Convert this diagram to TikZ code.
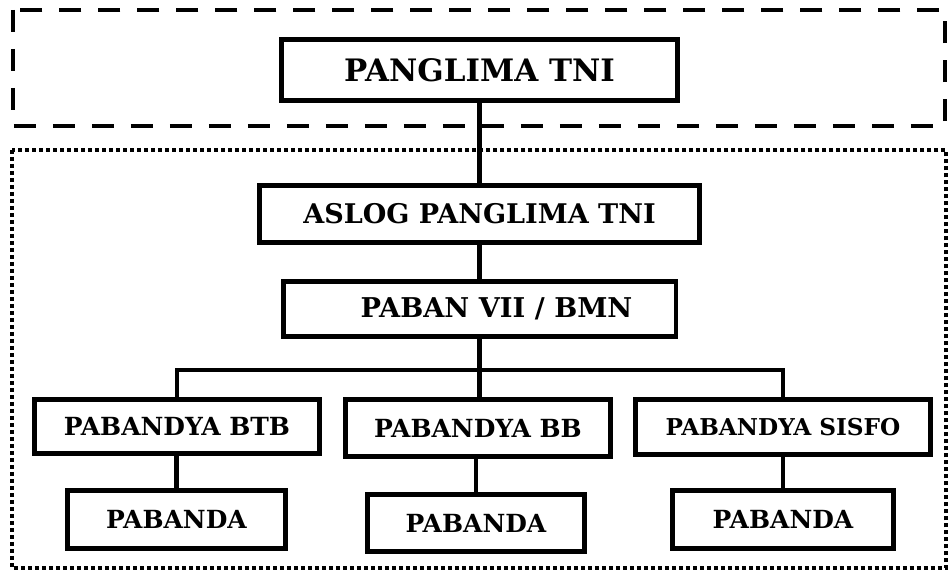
\documentclass[tikz,border=0pt]{standalone}
\usepackage{fontspec}
\setmainfont{DejaVu Serif}
\usepackage{tikz}

\begin{document}
\begin{tikzpicture}[x=0.02cm, y=-0.02cm]
      \tikzstyle{box} = [draw, line width=2.8pt, inner sep=0pt, align=center, font=\bfseries]
      \tikzstyle{link} = [line width=2.8pt]

      \useasboundingbox (0,0) rectangle (950,571);

      % groups
      \draw[line width=2.8pt, dash pattern=on 0.44cm off 0.34cm] (13,10) rectangle (945,126);
      \draw[line width=2.3pt, dash pattern=on 0.08cm off 0.06cm] (12,150) rectangle (946,568);

      \node[box, minimum width=7.92cm, minimum height=1.22cm, font=\bfseries\fontsize{17.6}{20}\selectfont] (panglima) at (479.5,70) {PANGLIMA TNI};
      \node[box, minimum width=8.8cm, minimum height=1.14cm, font=\bfseries\fontsize{15.4}{18}\selectfont] (aslog) at (479.5,214) {ASLOG PANGLIMA TNI};
      \node[box, minimum width=7.86cm, minimum height=1.1cm, font=\bfseries\fontsize{15.5}{18}\selectfont] (paban) at (479.5,309) {\hspace{0.68cm}PABAN VII / BMN};

      \node[box, minimum width=5.7cm, minimum height=1.08cm, font=\bfseries\fontsize{14.2}{16}\selectfont] (btb) at (177,426.5) {PABANDYA BTB};
      \node[box, minimum width=5.3cm, minimum height=1.14cm, font=\bfseries\fontsize{14.2}{16}\selectfont] (bb) at (478,428) {PABANDYA BB};
      \node[box, minimum width=5.9cm, minimum height=1.1cm, font=\bfseries\fontsize{13.2}{15}\selectfont] (sisfo) at (783,427) {PABANDYA SISFO};

      \node[box, minimum width=4.36cm, minimum height=1.16cm, font=\bfseries\fontsize{14.2}{16}\selectfont] (pabanda1) at (176.5,519.5) {PABANDA};
      \node[box, minimum width=4.34cm, minimum height=1.14cm, font=\bfseries\fontsize{14.2}{16}\selectfont] (pabanda2) at (476,523) {PABANDA};
      \node[box, minimum width=4.42cm, minimum height=1.16cm, font=\bfseries\fontsize{14.2}{16}\selectfont] (pabanda3) at (783,519.5) {PABANDA};

      \coordinate (bus) at (479.5,370);

      \draw[link] (panglima) to (aslog);
      \draw[link] (aslog) to (paban);
      \draw[link] (paban) to (bus);
      \draw[link] (btb.north) |- (bus) -| (sisfo.north);
      \draw[link] (bus) to (bus |- bb.north);
      \draw[link] (bb.south -| pabanda2.north) to (pabanda2.north);
      \draw[link] (btb.south -| pabanda1.north) to (pabanda1.north);
      \draw[link] (sisfo) to (pabanda3);
    \end{tikzpicture}
\end{document}
